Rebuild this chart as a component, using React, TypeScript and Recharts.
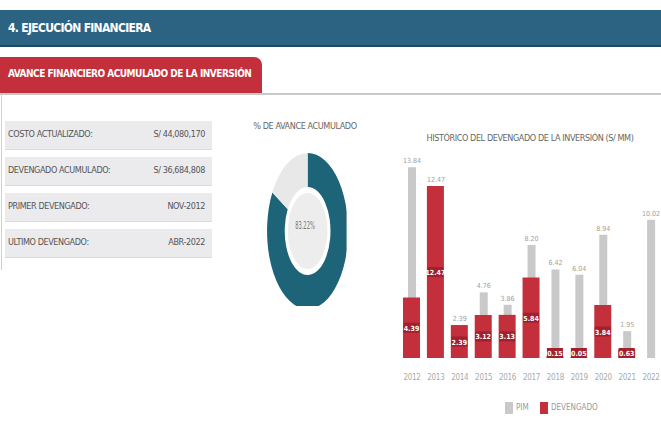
import { BarChart, Bar, XAxis, YAxis, LabelList, PieChart, Pie, Cell } from "recharts";

// historico del devengado (S/ MM)
const years = ["2012", "2013", "2014", "2015", "2016", "2017", "2018", "2019", "2020", "2021", "2022"];
const pimValues = [13.84, 12.47, 2.39, 4.76, 3.86, 8.2, 6.42, 6.04, 8.94, 1.95, 10.02];
const devengadoValues = [4.39, 12.47, 2.39, 3.12, 3.13, 5.84, 0.15, 0.05, 3.84, 0.63, null];

// avance acumulado
const avanceLabels = ["Devengado", "Pendiente"];
const avanceValues = [83.22, 16.78];

const summaryLabels = ["COSTO ACTUALIZADO:", "DEVENGADO ACUMULADO:", "PRIMER DEVENGADO:", "ULTIMO DEVENGADO:"];
const summaryValues = ["S/ 44,080,170", "S/ 36,684,808", "NOV-2012", "ABR-2022"];

const FONT = "'DejaVu Sans Condensed', 'Liberation Sans Narrow', Roboto, sans-serif";
const BLUE = "#2c6383";
const RED = "#c3303c";
const TEAL = "#1e6478";

const chartData = years.map((y, i) => ({ year: y, pim: pimValues[i], dev: devengadoValues[i] }));
const pieData = avanceLabels.map((n, i) => ({ name: n, value: avanceValues[i] }));

const DevLabel = (props: any) => {
  const { x, y, width, height, value } = props;
  if (value === null || value === undefined) return null;
  const cx = x + width / 2;
  const cy = Math.min(y + height / 2, y + height - 5);
  return (
    <g>
      <rect x={cx - 8} y={cy - 5} width={16} height={10} fill="#a31f2b" />
      <text x={cx} y={cy + 3} textAnchor="middle" fontSize={7} fontWeight="bold" fill="#fff" fontFamily={FONT}>
        {Number(value).toFixed(2)}
      </text>
    </g>
  );
};

export default function App() {
  return (
    <div style={{ position: "absolute", left: 0, top: 0, width: 661, height: 425, overflow: "hidden", background: "#fff", fontFamily: FONT }}>
      {/* header */}
      <div style={{ position: "absolute", left: 0, top: 10, width: 661, height: 35, background: BLUE, borderBottom: "2px solid #1d4a63" }}>
        <span style={{ position: "absolute", left: 8, top: 11, color: "#fff", fontSize: 12, fontWeight: "bold", letterSpacing: -0.7 }}>
          4. EJECUCIÓN FINANCIERA
        </span>
      </div>
      <div style={{ position: "absolute", left: 0, top: 57, width: 262, height: 36, background: RED, borderTopRightRadius: 8 }}>
        <span style={{ position: "absolute", left: 8, top: 11, color: "#fff", fontSize: 10, fontWeight: "bold", letterSpacing: -0.5 }}>
          AVANCE FINANCIERO ACUMULADO DE LA INVERSIÓN
        </span>
      </div>
      <div style={{ position: "absolute", left: 0, top: 93, width: 661, height: 2, background: "#c9c9c9" }} />
      <div style={{ position: "absolute", left: 1, top: 95, width: 1, height: 175, background: "#d0d0d0" }} />

      {/* summary table */}
      {summaryLabels.map((lab, i) => (
        <div key={lab} style={{ position: "absolute", left: 5, top: 121 + i * 36, width: 207, height: 28, background: "#ebebee", borderBottom: "1px solid #dcdcdc" }}>
          <span style={{ position: "absolute", left: 3, top: 8, fontSize: 9, color: "#555", letterSpacing: -0.4 }}>{lab}</span>
          <span style={{ position: "absolute", right: 7, top: 8, fontSize: 9, color: "#555", letterSpacing: -0.4 }}>{summaryValues[i]}</span>
        </div>
      ))}

      {/* donut */}
      <div style={{ position: "absolute", left: 245, top: 121, width: 120, textAlign: "center", fontSize: 9, color: "#666", letterSpacing: -0.4 }}>
        % DE AVANCE ACUMULADO
      </div>
      <div style={{ position: "absolute", left: 225, top: 146, width: 160, height: 160, transform: "scaleX(0.52)", transformOrigin: "center" }}>
        <PieChart width={160} height={160}>
          <Pie data={[{ value: 1 }]} dataKey="value" cx={80} cy={80} innerRadius={0} outerRadius={38} fill="#ededed" stroke="none" isAnimationActive={false} />
          <Pie data={pieData} dataKey="value" cx={80} cy={80} innerRadius={44} outerRadius={78} startAngle={90} endAngle={-270} stroke="none" isAnimationActive={false}>
            {pieData.map((d, i) => (
              <Cell key={d.name} fill={i === 0 ? TEAL : "#e8e8e8"} />
            ))}
          </Pie>
        </PieChart>
        <div style={{ position: "absolute", left: 0, top: 73, width: 160, textAlign: "center", fontSize: 11, color: "#777" }}>
          83.22%
        </div>
      </div>

      {/* historico */}
      <div style={{ position: "absolute", left: 400, top: 133, width: 260, textAlign: "center", fontSize: 9, color: "#666", letterSpacing: -0.4 }}>
        HISTÓRICO DEL DEVENGADO DE LA INVERSIÓN (S/ MM)
      </div>
      <div style={{ position: "absolute", left: 400, top: 140 }}>
        <BarChart width={263} height={248} data={chartData} margin={{ top: 25, right: 0, bottom: 0, left: 0 }} barCategoryGap={0}>
          <XAxis xAxisId="dev" dataKey="year" hide height={0} />
          <XAxis xAxisId="pim" dataKey="year" axisLine={false} tickLine={false} interval={0} tick={{ fontSize: 8, fill: "#aaa", fontFamily: FONT, letterSpacing: -0.3 }} tickMargin={10} height={30} />
          <YAxis domain={[0, 14]} hide allowDataOverflow />
          <Bar xAxisId="pim" dataKey="pim" fill="#c9c9c9" barSize={8} isAnimationActive={false}>
            <LabelList dataKey="pim" position="top" offset={4} fontSize={7} fill="#a0a0a0" fontFamily={FONT} formatter={(v: any) => Number(v).toFixed(2)} />
          </Bar>
          <Bar xAxisId="dev" dataKey="dev" fill={RED} barSize={17} isAnimationActive={false}>
            <LabelList dataKey="dev" content={DevLabel} />
          </Bar>
        </BarChart>
      </div>

      {/* legend */}
      <div style={{ position: "absolute", left: 505, top: 402, width: 8, height: 12, background: "#c9c9c9" }} />
      <span style={{ position: "absolute", left: 516, top: 403, fontSize: 8, color: "#999" }}>PIM</span>
      <div style={{ position: "absolute", left: 540, top: 402, width: 8, height: 12, background: RED }} />
      <span style={{ position: "absolute", left: 551, top: 403, fontSize: 8, color: "#999" }}>DEVENGADO</span>
    </div>
  );
}
